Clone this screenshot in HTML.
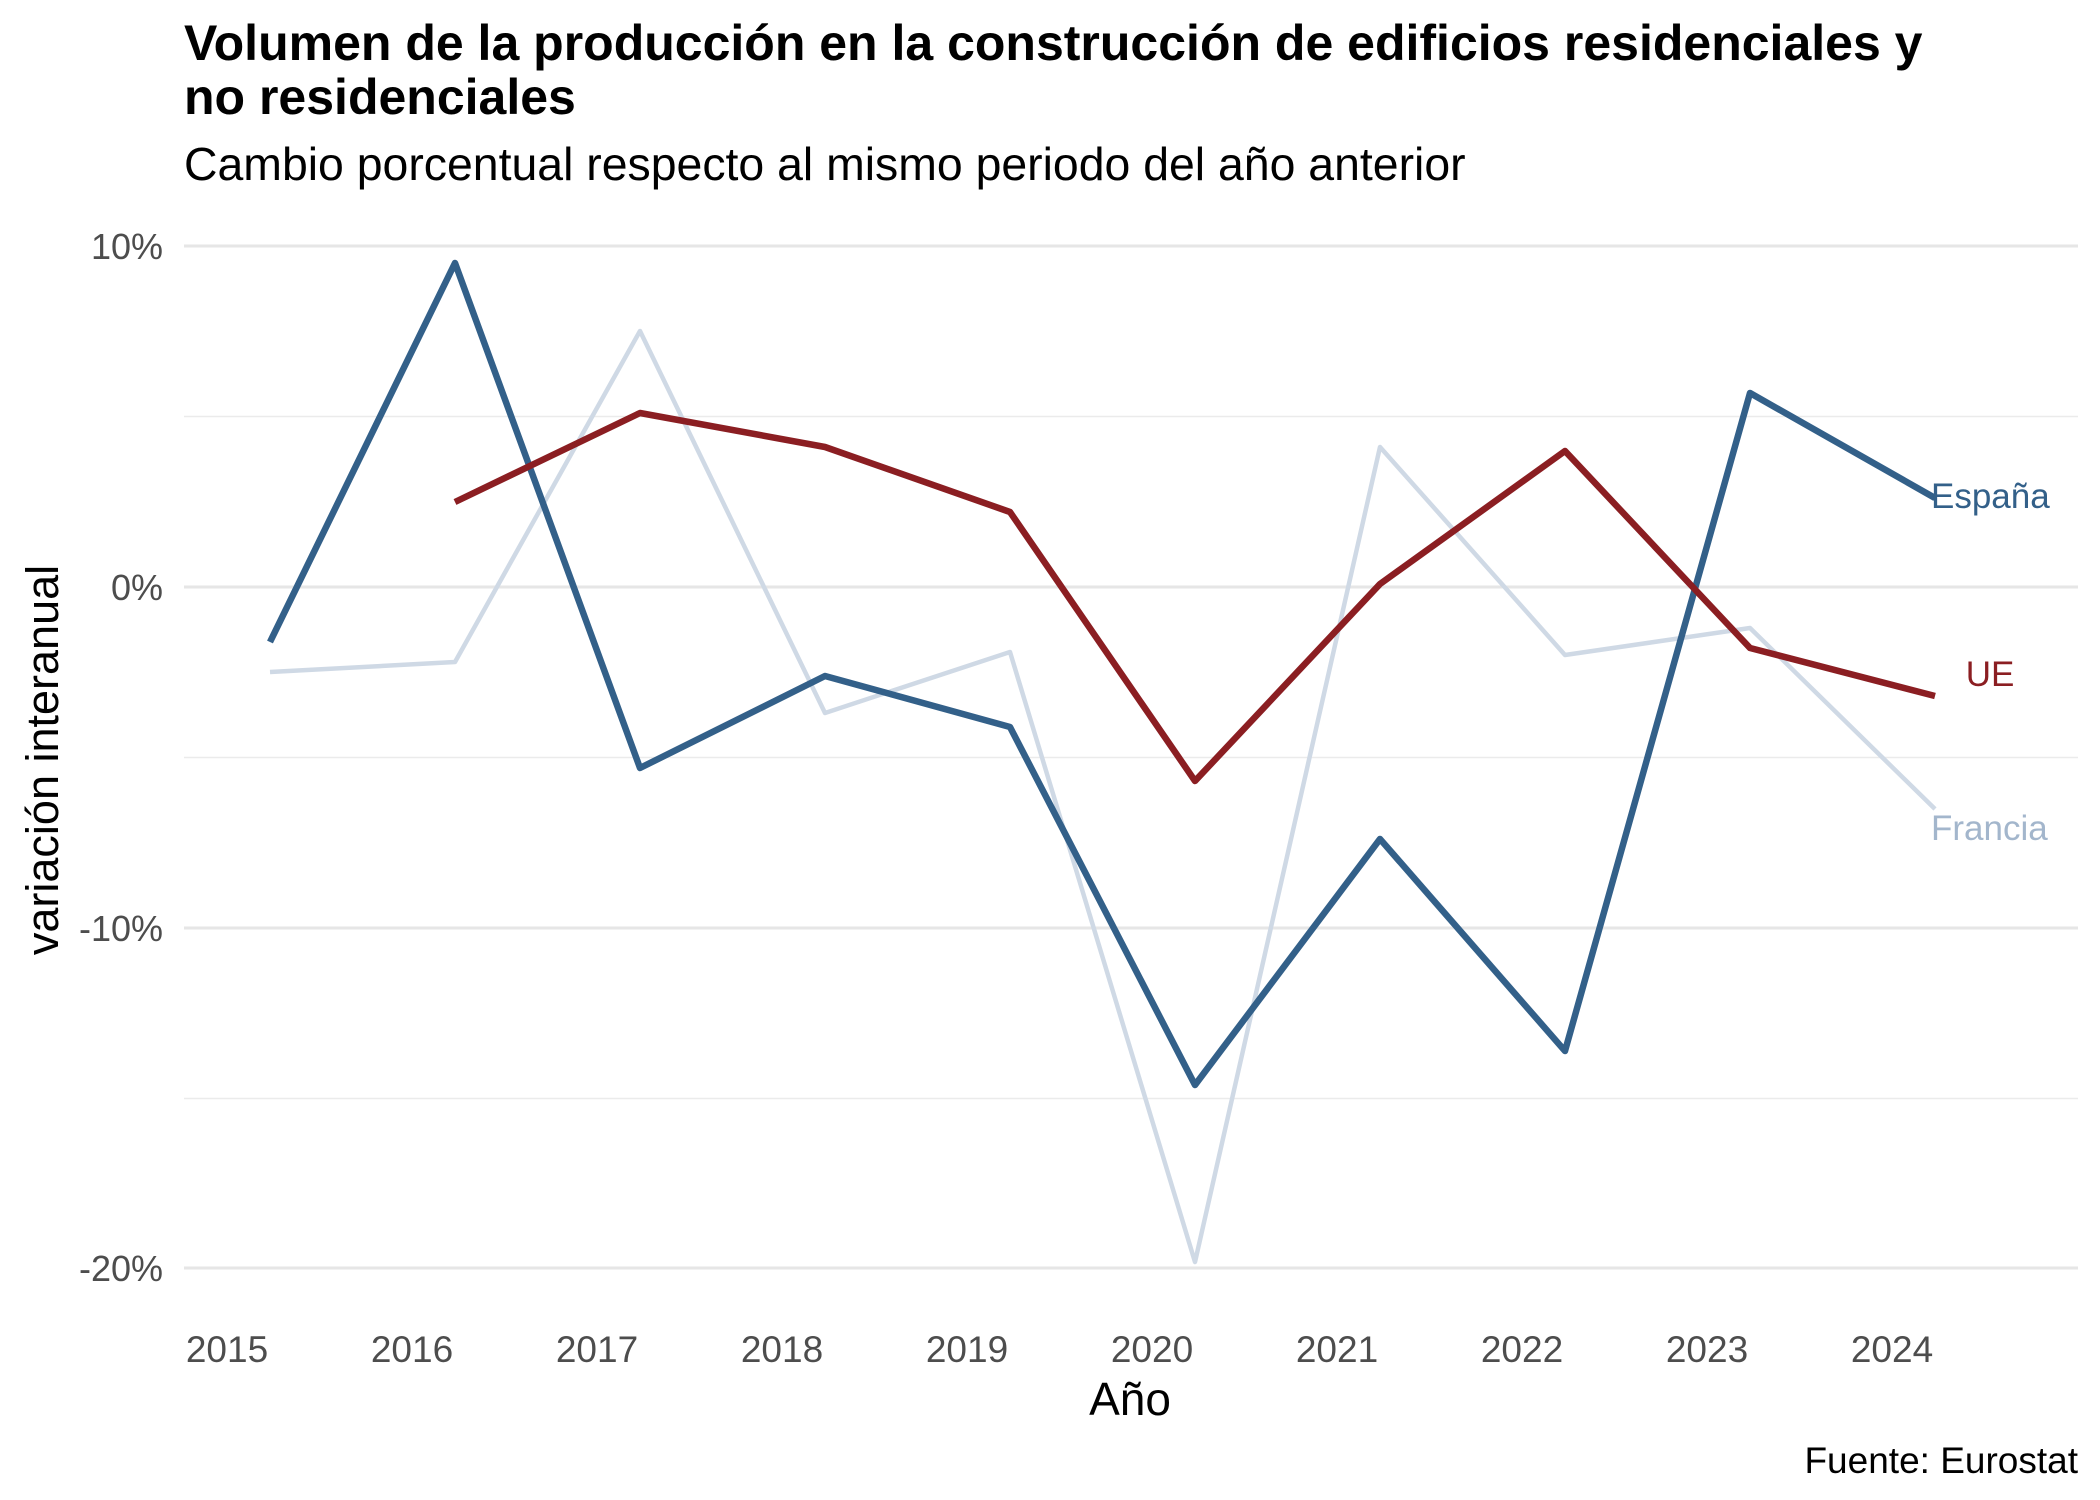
<!DOCTYPE html>
<html><head><meta charset="utf-8"><style>html,body{margin:0;padding:0;background:#fff}svg{display:block}</style></head><body>
<svg width="2100" height="1500" viewBox="0 0 2100 1500" xmlns="http://www.w3.org/2000/svg" font-family="Liberation Sans, sans-serif">
<rect width="2100" height="1500" fill="#fff"/>
<g stroke="#ebebeb" stroke-width="1.5">
<line x1="184" x2="2078" y1="416.5" y2="416.5"/>
<line x1="184" x2="2078" y1="757.5" y2="757.5"/>
<line x1="184" x2="2078" y1="1098.5" y2="1098.5"/>
</g>
<g stroke="#e6e6e6" stroke-width="3">
<line x1="184" x2="2078" y1="246" y2="246"/>
<line x1="184" x2="2078" y1="587" y2="587"/>
<line x1="184" x2="2078" y1="928" y2="928"/>
<line x1="184" x2="2078" y1="1268" y2="1268"/>
</g>
<g fill="#4d4d4d" font-size="36" text-anchor="end">
<text x="163" y="259">10%</text>
<text x="163" y="600">0%</text>
<text x="163" y="941">-10%</text>
<text x="163" y="1281">-20%</text>
</g>
<g fill="#4d4d4d" font-size="37" text-anchor="middle">
<text x="227" y="1362">2015</text><text x="412" y="1362">2016</text><text x="597" y="1362">2017</text><text x="782" y="1362">2018</text><text x="967" y="1362">2019</text><text x="1152" y="1362">2020</text><text x="1337" y="1362">2021</text><text x="1522" y="1362">2022</text><text x="1707" y="1362">2023</text><text x="1892" y="1362">2024</text>
</g>
<g fill="none" stroke-linejoin="round" stroke-linecap="butt">
<polyline stroke="#cfd9e5" stroke-width="4.5" points="270,672 455,662 640,331 825,713 1010,652 1195,1262 1380,447 1565,655 1750,628 1935,809"/>
<polyline stroke="#336089" stroke-width="6.5" points="270,642 455,263 640,768 825,676 1010,727 1195,1085 1380,839 1565,1051 1750,393 1935,498"/>
<polyline stroke="#8b1e22" stroke-width="6.5" points="455,502 640,413 825,447 1010,512 1195,781 1380,584 1565,451 1750,648 1935,696"/>
</g>
<text x="1931" y="508" font-size="35" fill="#336089">España</text>
<text x="1990" y="686" font-size="35" fill="#8b1e22" text-anchor="middle">UE</text>
<text x="1931" y="840" font-size="35" fill="#a3b6cc">Francia</text>
<text x="1130" y="1415" font-size="46" fill="#000" text-anchor="middle">Año</text>
<text transform="translate(58,760) rotate(-90)" font-size="45" fill="#000" text-anchor="middle">variación interanual</text>
<text x="2078" y="1473" font-size="37" fill="#000" text-anchor="end">Fuente: Eurostat</text>
<text x="184" y="60" font-size="50" font-weight="bold" fill="#000">Volumen de la producción en la construcción de edificios residenciales y</text>
<text x="184" y="114" font-size="50" font-weight="bold" fill="#000">no residenciales</text>
<text x="184" y="180" font-size="46.4" fill="#000">Cambio porcentual respecto al mismo periodo del año anterior</text>
</svg>
</body></html>
